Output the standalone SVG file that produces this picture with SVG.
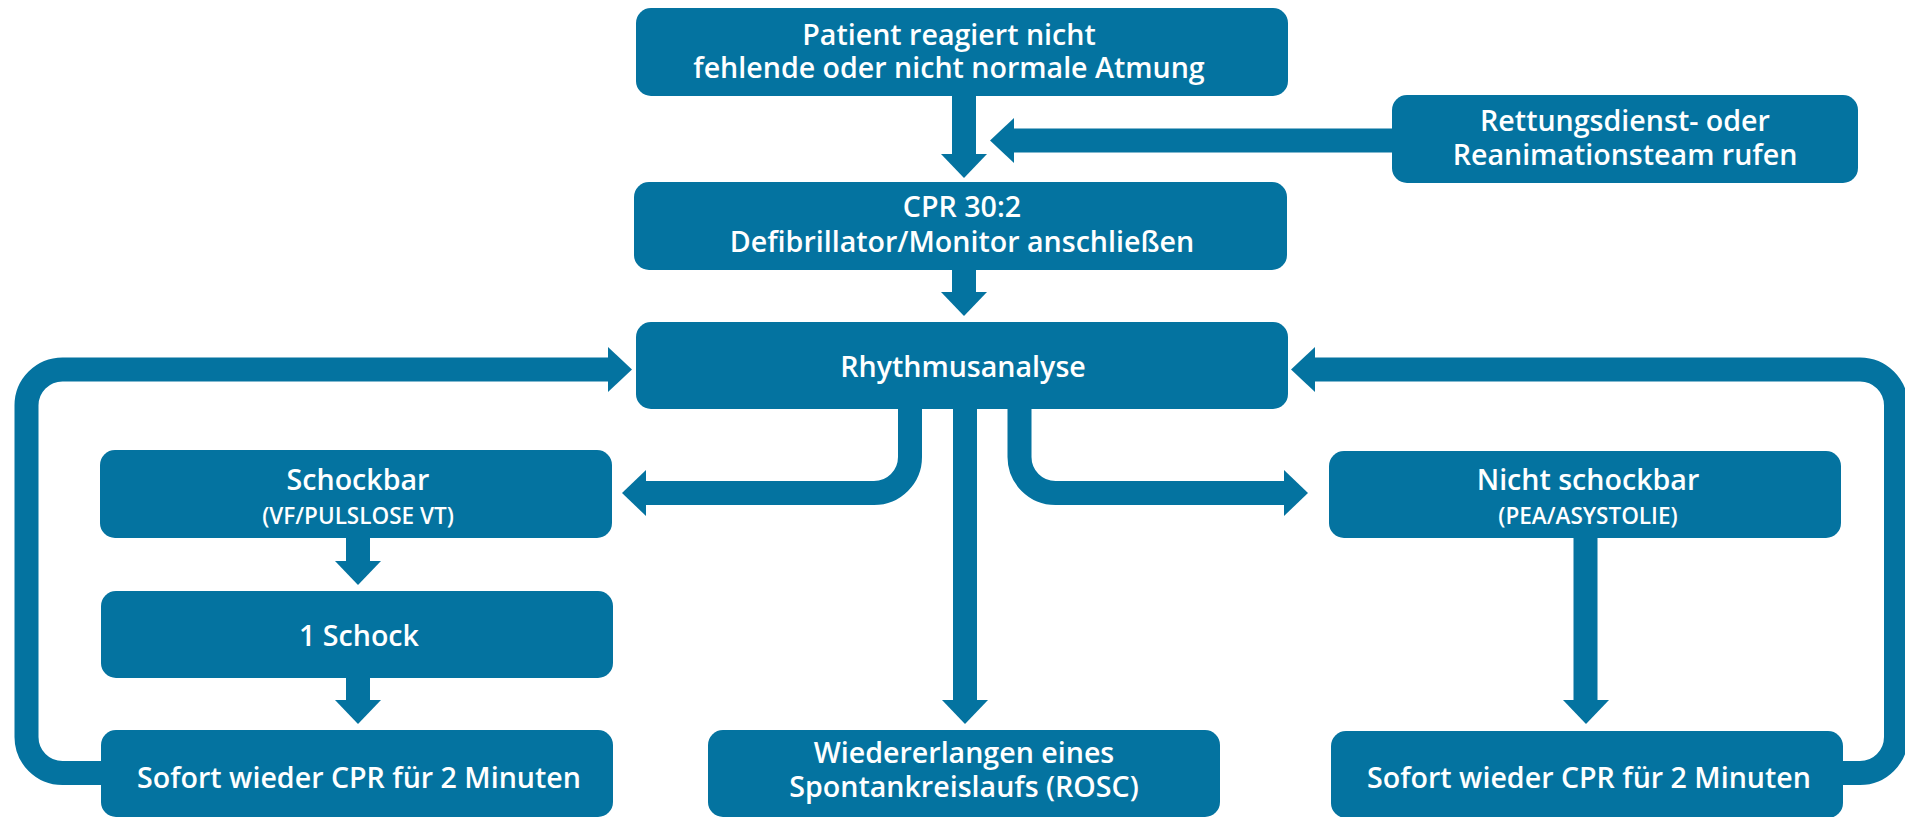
<svg xmlns="http://www.w3.org/2000/svg" width="1905" height="817" viewBox="0 0 1905 817">
<style>
.box{fill:#0473a0}
.t{font-family:"Open Sans","Liberation Sans",sans-serif;font-weight:600;font-size:28.6px;fill:#ffffff;text-anchor:middle}
.s{font-size:22.5px}
.ln{fill:none;stroke:#0473a0;stroke-width:24;stroke-linecap:butt}
.hd{fill:#0473a0}
</style>
<rect width="1905" height="817" fill="#ffffff"/>
<g id="connectors">
<path class="ln" d="M964 96V155"/>
<polygon class="hd" points="941,154 987,154 964,178"/>
<path class="ln" d="M1393 140.5H1013"/>
<polygon class="hd" points="1014,118 1014,163 990,140.5"/>
<path class="ln" d="M964 269V293"/>
<polygon class="hd" points="941,292 987,292 964,316"/>
<path class="ln" d="M965 408V701"/>
<polygon class="hd" points="942,700 988,700 965,724"/>
<path class="ln" d="M910 408V457A36 36 0 0 1 874 493H645"/>
<polygon class="hd" points="646,470 646,516 622,493"/>
<path class="ln" d="M1019.5 408V457A36 36 0 0 0 1055.5 493H1285"/>
<polygon class="hd" points="1284,470 1284,516 1308,493"/>
<path class="ln" d="M358 537V562"/>
<polygon class="hd" points="335,561 381,561 358,585"/>
<path class="ln" d="M358 677V701"/>
<polygon class="hd" points="335,700 381,700 358,724"/>
<path class="ln" d="M1585.5 537V701"/>
<polygon class="hd" points="1563,700 1609,700 1586,724"/>
<path class="ln" d="M102 773H62.5A36 36 0 0 1 26.5 737V405.5A36 36 0 0 1 62.5 369.5H609"/>
<polygon class="hd" points="608,347 608,392 632,369.5"/>
<path class="ln" d="M1842 773H1860A36 36 0 0 0 1896 737V405.5A36 36 0 0 0 1860 369.5H1314"/>
<polygon class="hd" points="1315,347 1315,392 1291,369.5"/>
</g>
<g id="n-start">
<rect class="box" x="636" y="8" width="652" height="88" rx="15"/>
<text class="t" x="949" y="45">Patient reagiert nicht</text>
<text class="t" x="949" y="78">fehlende oder nicht normale Atmung</text>
</g>
<g id="n-rettung">
<rect class="box" x="1392" y="95" width="466" height="88" rx="15"/>
<text class="t" x="1625" y="131">Rettungsdienst- oder</text>
<text class="t" x="1625" y="165">Reanimationsteam rufen</text>
</g>
<g id="n-cpr">
<rect class="box" x="634" y="182" width="653" height="88" rx="15"/>
<text class="t" x="962" y="217">CPR 30:2</text>
<text class="t" x="962" y="252">Defibrillator/Monitor anschließen</text>
</g>
<g id="n-rhythmus">
<rect class="box" x="636" y="322" width="652" height="87" rx="15"/>
<text class="t" x="963" y="377">Rhythmusanalyse</text>
</g>
<g id="n-schockbar">
<rect class="box" x="100" y="450" width="512" height="88" rx="15"/>
<text class="t" x="358" y="490">Schockbar</text>
<text class="t s" x="358" y="524">(VF/PULSLOSE VT)</text>
</g>
<g id="n-schock">
<rect class="box" x="101" y="591" width="512" height="87" rx="15"/>
<text class="t" x="359" y="646">1 Schock</text>
</g>
<g id="n-cpr-left">
<rect class="box" x="101" y="730" width="512" height="87" rx="15"/>
<text class="t" x="359" y="788">Sofort wieder CPR für 2 Minuten</text>
</g>
<g id="n-rosc">
<rect class="box" x="708" y="730" width="512" height="87" rx="15"/>
<text class="t" x="964" y="763">Wiedererlangen eines</text>
<text class="t" x="964" y="797">Spontankreislaufs (ROSC)</text>
</g>
<g id="n-nicht">
<rect class="box" x="1329" y="451" width="512" height="87" rx="15"/>
<text class="t" x="1588" y="490">Nicht schockbar</text>
<text class="t s" x="1588" y="524">(PEA/ASYSTOLIE)</text>
</g>
<g id="n-cpr-right">
<rect class="box" x="1331" y="731" width="512" height="87" rx="15"/>
<text class="t" x="1589" y="788">Sofort wieder CPR für 2 Minuten</text>
</g>
</svg>
